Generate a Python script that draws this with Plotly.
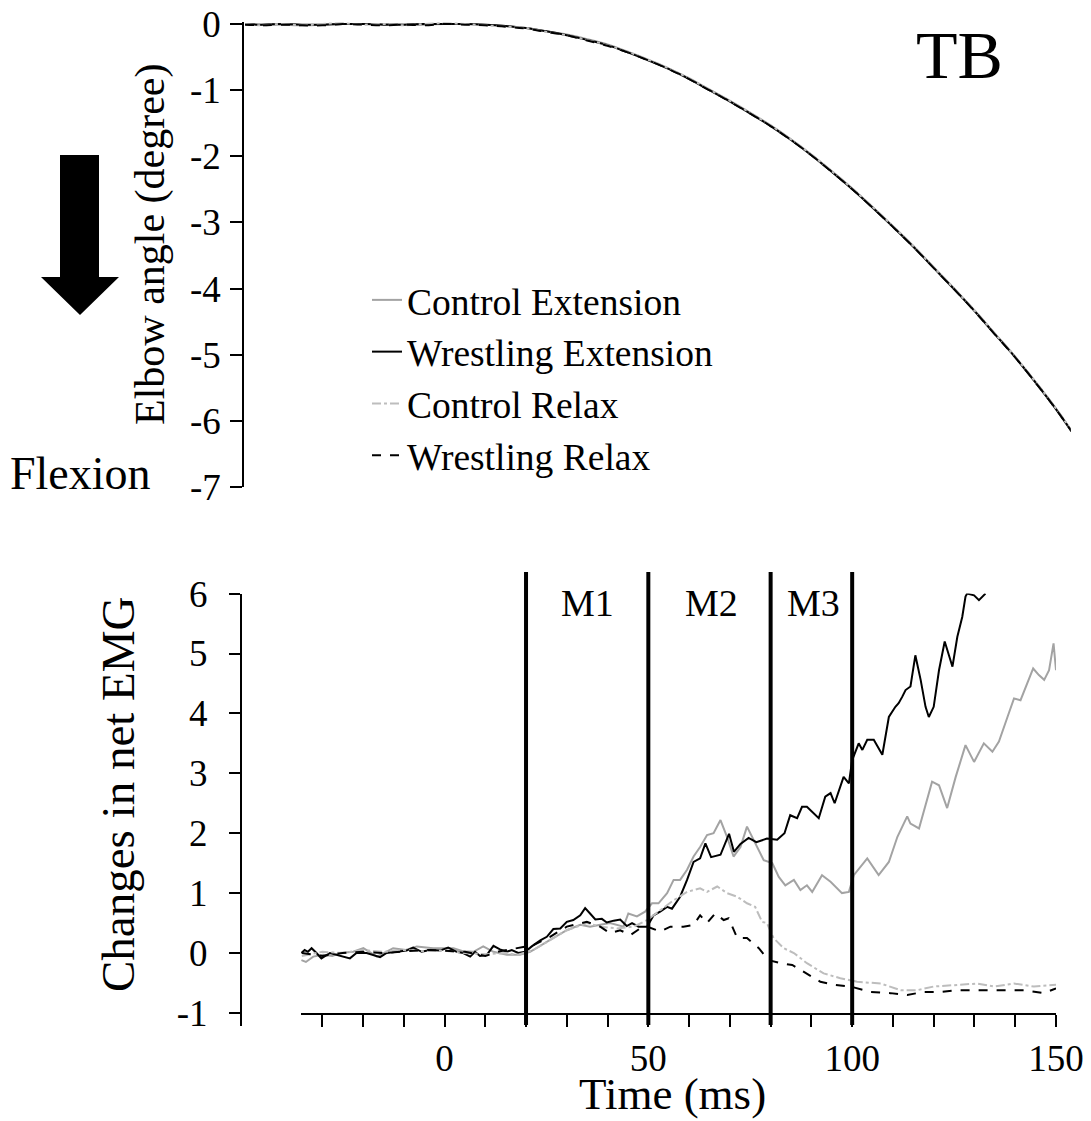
import plotly.graph_objects as go

# ---------------- data ----------------
# Top panel: elbow angle (degree) vs time (ms)
top_time = [-49, -45, -40, -35, -30, -25, -20, -15, -10, -5, 0, 5, 10, 15, 20, 25, 30, 35, 40,
            45, 50, 55, 60, 65, 70, 75, 80, 85, 90, 95, 100, 105, 110, 115, 120, 125, 130, 135,
            140, 145, 150, 154]
angle_control_ext = [0.00, -0.01, -0.01, -0.02, -0.01, 0.00, 0.00, 0.00, -0.01, -0.01, 0.00, 0.00,
                     -0.01, -0.03, -0.06, -0.11, -0.16, -0.23, -0.31, -0.42, -0.54, -0.67, -0.82,
                     -0.99, -1.16, -1.34, -1.53, -1.74, -1.97, -2.22, -2.48, -2.76, -3.05, -3.35,
                     -3.67, -3.99, -4.32, -4.67, -5.02, -5.40, -5.80, -6.15]
angle_wrestling_ext = [0.00, -0.01, 0.00, -0.01, -0.01, 0.00, 0.00, -0.01, -0.01, 0.00, 0.00, 0.00,
                       -0.01, -0.03, -0.06, -0.11, -0.17, -0.24, -0.32, -0.43, -0.55, -0.68, -0.83,
                       -1.00, -1.17, -1.35, -1.54, -1.75, -1.98, -2.23, -2.49, -2.77, -3.06, -3.36,
                       -3.68, -4.00, -4.33, -4.68, -5.03, -5.41, -5.81, -6.16]
angle_control_relax = [0.00, -0.02, 0.00, -0.02, 0.00, 0.01, -0.01, 0.00, -0.02, 0.00, 0.01, 0.00,
                       -0.02, -0.04, -0.06, -0.12, -0.17, -0.24, -0.32, -0.42, -0.54, -0.67, -0.82,
                       -0.99, -1.16, -1.34, -1.53, -1.74, -1.97, -2.22, -2.48, -2.76, -3.05, -3.35,
                       -3.67, -3.99, -4.32, -4.67, -5.02, -5.40, -5.80, -6.15]
angle_wrestling_relax = [-0.01, -0.02, -0.01, -0.02, -0.02, 0.00, -0.01, -0.02, -0.01, -0.02, 0.00,
                         -0.01, -0.02, -0.04, -0.07, -0.12, -0.17, -0.25, -0.33, -0.43, -0.55,
                         -0.68, -0.83, -1.00, -1.17, -1.35, -1.54, -1.75, -1.98, -2.23, -2.49,
                         -2.77, -3.06, -3.36, -3.68, -4.00, -4.33, -4.68, -5.03, -5.41, -5.81, -6.16]

# Bottom panel: changes in net EMG vs time (ms)
we_time = [-35.1, -34.3, -33.5, -32.6, -31.4, -30.2, -28.1, -25.7, -23.2, -21.6, -19.1, -15.8,
           -14.2, -11.7, -9.3, -7.7, -5.6, -3.6, -1.1, 0.9, 3.0, 4.6, 6.3, 7.5, 8.7, 10.4, 12.0,
           13.6, 15.3, 16.5, 18.1, 19.8, 21.4, 23.5, 25.1, 26.7, 28.4, 30.0, 31.6, 33.3, 34.5,
           35.7, 37.0, 38.6, 39.8, 41.5, 43.1, 44.7, 46.0, 47.6, 49.7, 51.3, 52.9, 54.6, 55.8,
           57.8, 59.5, 61.1, 62.7, 64.0, 65.4, 67.7, 69.8, 71.0, 72.6, 74.6, 76.5, 79.1, 81.6,
           83.4, 84.8, 86.5, 87.7, 88.9, 91.8, 93.4, 94.7, 95.7, 97.9, 99.2, 100.0, 101.6, 102.5,
           103.7, 105.3, 107.4, 109.0, 110.6, 111.4, 112.3, 113.1, 114.3, 115.5, 116.8, 118.0,
           118.8, 120.0, 121.3, 122.7, 124.6, 125.8, 127.0, 127.8, 128.2, 129.9, 131.1, 132.7]
we_emg = [0.00, 0.05, 0.02, 0.08, 0.00, -0.09, 0.00, -0.05, -0.09, 0.00, 0.00, -0.07,
          0.00, 0.02, 0.04, 0.09, 0.02, 0.05, 0.04, 0.09, 0.02, 0.00, -0.06, 0.02, -0.05, -0.03, 0.12,
          0.06, 0.02, 0.05, 0.00, 0.02, 0.11, 0.21, 0.27, 0.40, 0.41, 0.52, 0.55, 0.63, 0.75,
          0.66, 0.56, 0.57, 0.51, 0.54, 0.56, 0.45, 0.50, 0.44, 0.44, 0.63, 0.69, 0.77, 0.74,
          0.94, 1.22, 1.52, 1.58, 1.83, 1.60, 1.64, 1.99, 1.69, 1.82, 1.92, 1.85, 1.91, 1.89,
          2.00, 2.30, 2.25, 2.44, 2.44, 2.25, 2.61, 2.67, 2.50, 2.94, 2.83, 3.22, 3.50, 3.39,
          3.56, 3.56, 3.31, 3.94, 4.11, 4.17, 4.28, 4.39, 4.45, 4.97, 4.56, 4.11,
          3.94, 4.11, 4.72, 5.20, 4.78, 5.28, 5.61, 5.95, 6.00, 5.97, 5.89, 6.00]

ce_time = [-35.1, -34.0, -32.2, -29.8, -27.5, -25.7, -22.4, -19.9, -16.6, -14.5, -12.6, -9.5,
           -6.8, -2.8, 2.2, 4.5, 7.1, 9.5, 12.0, 15.3, 18.5, 21.0, 21.8, 25.9, 30.0, 33.3, 35.7,
           38.2, 40.6, 43.9, 45.1, 47.2, 49.2, 50.9, 52.5, 54.6, 56.2, 57.8, 59.5, 61.1, 62.7,
           64.4, 66.0, 67.7, 69.3, 70.9, 72.6, 74.2, 75.8, 78.3, 80.4, 82.0, 83.6, 85.7, 87.3,
           88.9, 90.2, 92.6, 94.7, 97.5, 99.2, 100.4, 103.7, 106.5, 109.0, 111.1, 113.5, 114.3,
           116.4, 119.6, 121.3, 123.3, 125.4, 127.8, 129.9, 132.3, 134.4, 136.0, 138.1, 139.7,
           141.3, 143.0, 144.4, 145.8, 147.1, 148.3, 149.4, 150.0]
ce_emg = [-0.12, -0.15, -0.06, -0.03, -0.05, 0.00, 0.02, 0.08, -0.06, 0.02, 0.08, 0.05,
          0.11, 0.08, 0.08, 0.03, 0.02, 0.11, 0.02, -0.03, -0.03, 0.02, 0.05, 0.22, 0.38, 0.47, 0.44,
          0.47, 0.50, 0.44, 0.66, 0.61, 0.69, 0.83, 0.83, 1.00, 1.22, 1.22, 1.39, 1.61, 1.77,
          1.97, 2.00, 2.22, 1.94, 1.61, 1.77, 2.11, 1.89, 1.55, 1.50, 1.27, 1.13, 1.22, 1.05,
          1.13, 1.02, 1.30, 1.19, 1.00, 1.02, 1.30, 1.58, 1.30, 1.52, 1.94, 2.28, 2.16,
          2.08, 2.86, 2.80, 2.42, 2.94, 3.47, 3.19, 3.50, 3.36, 3.53, 3.94, 4.25,
          4.22, 4.50, 4.75, 4.64, 4.56, 4.72, 5.17, 4.72]

cr_time = [-35, -30, -25, -20, -15, -10, -5, 0, 5, 10, 15, 18, 21.8, 26.0, 30.0, 35.0, 38.2,
           42.3, 46.4, 49.7, 52.9, 56.2, 59.5, 62.7, 64.4, 66.9, 69.3, 71.8, 74.2, 76.2, 77.9,
           79.1, 80.7, 83.2, 85.7, 88.9, 93.0, 97.1, 101.2, 107.0, 111.9, 116.0, 120.0, 125.8,
           130.7, 134.8, 139.7, 144.6, 150.0]
cr_emg = [-0.05, 0.02, 0.00, 0.05, 0.02, 0.05, 0.03, 0.04, 0.00, -0.02, 0.00, -0.03, 0.05, 0.22,
          0.38, 0.50, 0.44, 0.41, 0.44, 0.55, 0.72, 0.88, 1.02, 1.08, 1.02, 1.11, 1.00, 0.94, 0.83,
          0.77, 0.52, 0.50, 0.25, 0.08, 0.00, -0.17, -0.34, -0.42, -0.48, -0.51, -0.62, -0.62,
          -0.56, -0.53, -0.51, -0.56, -0.51, -0.56, -0.53]

wr_time = [-35, -30, -25, -20, -15, -10, -5, 0, 5, 10, 13.6, 21.8, 25.9, 30.0, 34.9, 38.2, 40.6,
           43.1, 45.6, 48.0, 49.7, 52.9, 55.4, 58.6, 61.1, 62.7, 64.4, 66.4, 68.5, 69.7, 71.8,
           74.2, 77.1, 79.5, 82.4, 85.3, 88.9, 92.2, 95.5, 99.6, 104.5, 109.4, 113.5, 117.6,
           121.7, 125.8, 129.9, 134.0, 138.1, 142.1, 147.1, 150.0]
wr_emg = [0.00, -0.05, 0.00, 0.02, 0.00, 0.03, 0.05, 0.04, 0.02, -0.05, 0.03, 0.13, 0.27, 0.44,
          0.52, 0.44, 0.33, 0.38, 0.30, 0.41, 0.44, 0.36, 0.44, 0.44, 0.47, 0.63, 0.50, 0.66, 0.55,
          0.58, 0.25, 0.25, 0.08, -0.12, -0.17, -0.20, -0.34, -0.48, -0.53, -0.56, -0.65, -0.67,
          -0.70, -0.65, -0.65, -0.62, -0.62, -0.62, -0.62, -0.62, -0.67, -0.59]

series_names = ["Control Extension", "Wrestling Extension", "Control Relax", "Wrestling Relax"]
window_lines = [20, 50, 80, 100]
window_labels = ["M1", "M2", "M3"]
window_label_pos = [35, 65.5, 90.5]
top_ticks = [0, -1, -2, -3, -4, -5, -6, -7]
top_ticktext = ["0", "-1", "-2", "-3", "-4", "-5", "-6", "-7"]
emg_ticks = [6, 5, 4, 3, 2, 1, 0, -1]
emg_ticktext = ["6", "5", "4", "3", "2", "1", "0", "-1"]
time_ticks = list(range(-30, 151, 10))
time_ticktext = [str(t) if t % 50 == 0 else "" for t in time_ticks]

# ---------------- layout helpers ----------------
W, H = 1091, 1121
FONT = "Liberation Serif, Times New Roman, Times, serif"


def px(x):
    return x / W


def py(y):
    return 1 - y / H


styles = [
    dict(color="#a3a3a3", width=2, dash="solid"),
    dict(color="#000000", width=2, dash="solid"),
    dict(color="#bdbdbd", width=2, dash="dashdot"),
    dict(color="#000000", width=2, dash="dash"),
]

fig = go.Figure()

top_vals = [angle_control_ext, angle_wrestling_ext, angle_control_relax, angle_wrestling_relax]
for name, vals, st in zip(series_names, top_vals, styles):
    fig.add_trace(go.Scatter(x=top_time, y=vals, mode="lines", name=name,
                             line=dict(color=st["color"], width=st["width"], dash=st["dash"],
                                       shape="spline", smoothing=1.0),
                             xaxis="x", yaxis="y", showlegend=True, legendgroup=name))

bottom = [(ce_time, ce_emg), (we_time, we_emg), (cr_time, cr_emg), (wr_time, wr_emg)]
for name, (t, v), st in zip(series_names, bottom, styles):
    fig.add_trace(go.Scatter(x=t, y=v, mode="lines", name=name,
                             line=dict(color=st["color"], width=st["width"], dash=st["dash"]),
                             xaxis="x2", yaxis="y2", showlegend=False, legendgroup=name))

axis_common = dict(showgrid=False, zeroline=False, showline=True, linecolor="black", linewidth=2,
                   ticks="outside", tickcolor="black", tickwidth=2, automargin=False,
                   tickfont=dict(family=FONT, size=37, color="black"))

fig.update_layout(
    template="none",
    width=W, height=H, autosize=False,
    margin=dict(l=0, r=0, t=0, b=0, pad=0),
    paper_bgcolor="white", plot_bgcolor="white",
    font=dict(family=FONT, color="black"),
    xaxis=dict(domain=[px(244.2), px(1070.8)], range=[-49.2, 153.8], visible=False, anchor="y",
               automargin=False),
    yaxis=dict(domain=[py(487), py(22)], range=[-7, 0.03], anchor="x",
               tickvals=top_ticks, ticktext=top_ticktext, ticklen=12, ticklabelstandoff=2,
               **axis_common),
    xaxis2=dict(domain=[px(301), px(1056)], range=[-35.2, 150], anchor="y2",
                tickvals=time_ticks, ticktext=time_ticktext, ticklen=12, ticklabelstandoff=0,
                **axis_common),
    yaxis2=dict(domain=[py(1012.9), py(593.6)], range=[-1, 6], anchor="free", position=px(241),
                tickvals=emg_ticks, ticktext=emg_ticktext, ticklen=11, ticklabelstandoff=14,
                **axis_common),
    legend=dict(x=px(367), y=py(269), xanchor="left", yanchor="top",
                bgcolor="rgba(0,0,0,0)", borderwidth=0, itemwidth=30, tracegroupgap=0,
                font=dict(family=FONT, size=37.5, color="black")),
    showlegend=True,
)

# window boundary lines
for t in window_lines:
    fig.add_shape(type="line", xref="x2", yref="paper", x0=t, x1=t, y0=py(1025), y1=py(572),
                  line=dict(color="black", width=4), layer="above")

# small extension of the EMG axis line below -1 (as in the original)
fig.add_shape(type="line", xref="paper", yref="paper", x0=px(241), x1=px(241),
              y0=py(1026), y1=py(1012), line=dict(color="black", width=2))

for lab, t in zip(window_labels, window_label_pos):
    fig.add_annotation(text=lab, x=t, y=py(603), xref="x2", yref="paper", showarrow=False,
                       xanchor="center", yanchor="middle",
                       font=dict(family=FONT, size=38, color="black"))

# flexion arrow
pts = [(60, 155), (99, 155), (99, 277), (119, 277), (80, 315), (41, 277), (60, 277)]
path = "M " + " L ".join(f"{px(a):.5f},{py(b):.5f}" for a, b in pts) + " Z"
fig.add_shape(type="path", xref="paper", yref="paper", path=path,
              fillcolor="black", line=dict(color="black", width=0))

texts = [
    dict(text="Elbow angle (degree)", x=px(151), y=py(244), size=42, angle=-90),
    dict(text="Changes in net EMG", x=px(118), y=py(794), size=47, angle=-90),
    dict(text="Time (ms)", x=px(672), y=py(1094), size=45, angle=0),
    dict(text="Flexion", x=px(80), y=py(473), size=46, angle=0),
    dict(text="TB", x=px(959), y=py(55), size=68, angle=0),
]
for tx in texts:
    fig.add_annotation(text=tx["text"], x=tx["x"], y=tx["y"], xref="paper", yref="paper",
                       showarrow=False, xanchor="center", yanchor="middle", textangle=tx["angle"],
                       font=dict(family=FONT, size=tx["size"], color="black"))

fig.write_html("out.html")
